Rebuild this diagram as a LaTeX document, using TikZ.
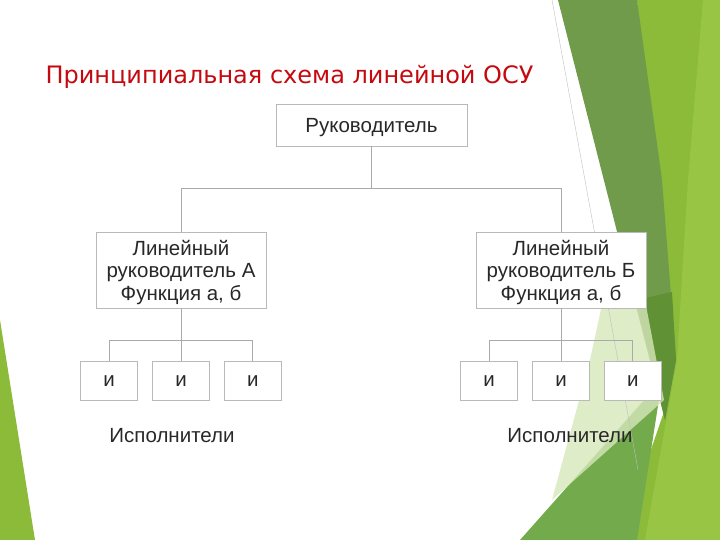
\documentclass[tikz,border=0pt]{standalone}
\usepackage{fontspec}
\setmainfont{Liberation Sans}
\newfontfamily\titlefont{DejaVu Sans}
\usetikzlibrary{positioning}

\definecolor{titlered}{RGB}{196,10,16}
\definecolor{boxgray}{RGB}{185,185,185}
\definecolor{linegray}{RGB}{170,170,170}
\definecolor{txtgray}{RGB}{40,40,40}
\definecolor{facetlime}{RGB}{140,187,58}
\definecolor{facetbright}{RGB}{152,198,68}
\definecolor{facetdark}{RGB}{111,155,74}
\definecolor{facetdeep}{RGB}{96,145,52}
\definecolor{facetmid}{RGB}{114,170,76}
\definecolor{facetpale}{RGB}{214,231,186}

\begin{document}
\begin{tikzpicture}[x=1pt, y=-1pt, font=\fontsize{20.5}{22.5}\selectfont,
  box/.style={draw=boxgray, line width=0.9pt, fill=white, text=txtgray, align=center, inner sep=0pt, text depth=0pt},
  chief/.style={box, minimum width=191pt, minimum height=42pt},
  linebox/.style={box, minimum width=170pt, minimum height=76pt},
  worker/.style={box, minimum width=57pt, minimum height=39pt},
  bus/.style={draw=linegray, line width=0.9pt}]
\useasboundingbox (0,0) rectangle (720,540);

% facet background
\fill[facetlime] (637,0) -- (720,0) -- (720,540) -- (620,540) -- (668,400) -- cycle;
\fill[facetbright] (703,0) -- (720,0) -- (720,540) -- (645,540) -- (677,360) -- (688,180) -- cycle;
\fill[facetdark] (558,0) -- (637,0) -- (662,180) -- (676,360) -- (665,420) -- cycle;
\fill[facetdeep] (636,300) -- (672,292) -- (676,360) -- (665,420) -- cycle;
\fill[facetmid] (520,540) -- (662,380) -- (637,540) -- cycle;
\fill[facetpale, opacity=0.8] (603,300) -- (645,300) -- (664,400) -- (552,500) -- (590,360) -- cycle;
\fill[facetlime] (0,320) -- (0,540) -- (35,540) -- cycle;
\draw[gray!50, line width=0.4pt] (552,0) -- (638,470);

\node[anchor=base west, text=titlered, font=\titlefont\fontsize{24}{28}\selectfont] (title) at (42,84) {Принципиальная схема линейной ОСУ};

\node[chief] (head) at (371.5,125) {Руководитель};
\node[linebox] (leada) at (181,270) {Линейный\\руководитель А\\Функция а, б};
\node[linebox] (leadb) at (561,270) {Линейный\\руководитель Б\\Функция а, б};

\node[worker, below=53pt of leada] (a2) {и};
\node[worker, left=14pt of a2] (a1) {и};
\node[worker, right=14pt of a2] (a3) {и};
\node[worker, below=53pt of leadb] (b2) {и};
\node[worker, left=14pt of b2] (b1) {и};
\node[worker, right=14pt of b2] (b3) {и};

\node[text=txtgray] (execa) at (172,436) {Исполнители};
\node[text=txtgray] (execb) at (570,436) {Исполнители};

\draw[bus] (head.south) -- ++(0,42) -| (leada.north);
\draw[bus] (head.south) -- ++(0,42) -| (leadb.north);
\draw[bus] (leada.south) -- ++(0,32) -| (a1.north);
\draw[bus] (leada.south) -- (a2.north);
\draw[bus] (leada.south) -- ++(0,32) -| (a3.north);
\draw[bus] (leadb.south) -- ++(0,32) -| (b1.north);
\draw[bus] (leadb.south) -- (b2.north);
\draw[bus] (leadb.south) -- ++(0,32) -| (b3.north);
\end{tikzpicture}
\end{document}
